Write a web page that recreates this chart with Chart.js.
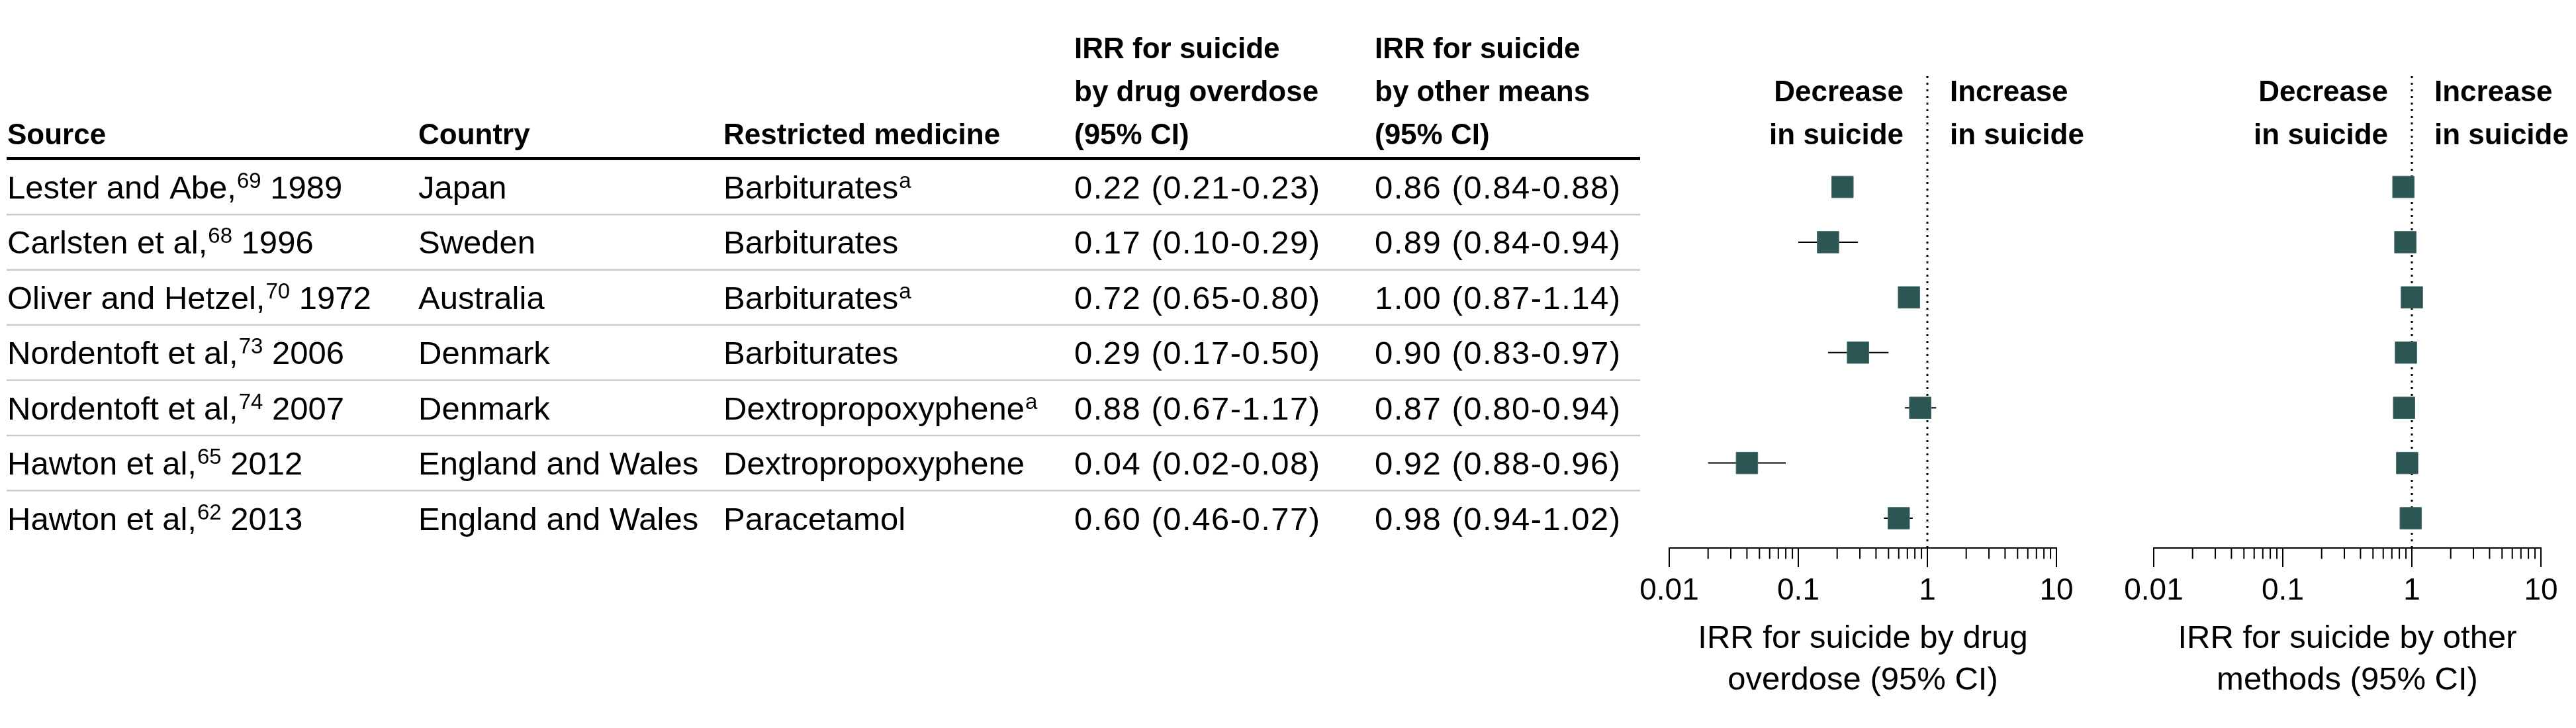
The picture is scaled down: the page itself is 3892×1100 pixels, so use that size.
<!DOCTYPE html>
<html lang="en">
<head>
<meta charset="UTF-8">
<title>Medicine restriction and suicide: IRR forest plot</title>
<style>
  html, body { margin: 0; padding: 0; background: #fff; }
  #wrap { position: relative; width: 3892px; height: 1100px; }
  #wrap canvas { position: absolute; left: 0; top: 0; }
</style>
</head>
<body>
<div id="wrap">
  <canvas id="drugChart" width="3892" height="1100"></canvas>
  <canvas id="otherChart" width="3892" height="1100"></canvas>
</div>
<script src="https://cdn.jsdelivr.net/npm/chart.js@4"></script>
<script>
// --- data ---
const sources = ['Lester and Abe,', 'Carlsten et al,', 'Oliver and Hetzel,', 'Nordentoft et al,',
                 'Nordentoft et al,', 'Hawton et al,', 'Hawton et al,'];
const refNums = ['69', '68', '70', '73', '74', '65', '62'];
const years = ['1989', '1996', '1972', '2006', '2007', '2012', '2013'];
const countries = ['Japan', 'Sweden', 'Australia', 'Denmark', 'Denmark', 'England and Wales', 'England and Wales'];
const medicines = ['Barbiturates', 'Barbiturates', 'Barbiturates', 'Barbiturates',
                   'Dextropropoxyphene', 'Dextropropoxyphene', 'Paracetamol'];
const medNotes = ['a', '', 'a', '', 'a', '', ''];

const drugIRR = [0.22, 0.17, 0.72, 0.29, 0.88, 0.04, 0.60];
const drugLow = [0.21, 0.10, 0.65, 0.17, 0.67, 0.02, 0.46];
const drugHigh = [0.23, 0.29, 0.80, 0.50, 1.17, 0.08, 0.77];

const otherIRR = [0.86, 0.89, 1.00, 0.90, 0.87, 0.92, 0.98];
const otherLow = [0.84, 0.84, 0.87, 0.83, 0.80, 0.88, 0.94];
const otherHigh = [0.88, 0.94, 1.14, 0.97, 0.94, 0.96, 1.02];

const tickValues = [0.01, 0.1, 1, 10];
const tickLabels = ['0.01', '0.1', '1', '10'];
const minorSteps = [2, 3, 4, 5, 6, 7, 8, 9];

const headers = [['Source'], ['Country'], ['Restricted medicine'],
                 ['IRR for suicide', 'by drug overdose', '(95% CI)'],
                 ['IRR for suicide', 'by other means', '(95% CI)']];
const drugTitle = ['IRR for suicide by drug', 'overdose (95% CI)'];
const otherTitle = ['IRR for suicide by other', 'methods (95% CI)'];

// --- look ---
const FONT = '"Liberation Sans", Arial, Helvetica, sans-serif';
const INK = '#000';
const MARKER = '#2b5654';
const RULE_LIGHT = '#c9ccc2';
const ROW_MIN = -2.008, ROW_MAX = 6.539;   // y range so rows land on the table lines
const colX = [11, 632, 1093, 1623, 2077];
const tableRight = 2478;

Chart.defaults.font.family = FONT;
Chart.defaults.color = INK;

function ci(est, lo, hi, i) {
  return est[i].toFixed(2) + ' (' + lo[i].toFixed(2) + '-' + hi[i].toFixed(2) + ')';
}

// text with a raised note, e.g. "Lester and Abe,69 1989"
function textSup(ctx, x, y, main, sup, tail) {
  ctx.font = '49px ' + FONT;
  ctx.fillText(main, x, y);
  x += ctx.measureText(main).width;
  if (sup) {
    ctx.font = '33px ' + FONT;
    ctx.fillText(sup, x + 1, y - 16);
    x += ctx.measureText(sup).width + 1;
  }
  if (tail) {
    ctx.font = '49px ' + FONT;
    ctx.fillText(tail, x, y);
  }
}

const tablePlugin = {
  id: 'table',
  afterDraw(chart) {
    const ctx = chart.ctx;
    const y = chart.scales.y;
    ctx.save();
    ctx.fillStyle = INK;
    ctx.textBaseline = 'alphabetic';
    ctx.textAlign = 'left';

    // column headers, bottom aligned
    ctx.font = 'bold 44px ' + FONT;
    headers.forEach((lines, c) => {
      lines.forEach((t, k) => {
        ctx.fillText(t, colX[c], 218 - 65 * (lines.length - 1 - k));
      });
    });

    ctx.strokeStyle = INK;
    ctx.lineWidth = 5;
    ctx.beginPath();
    ctx.moveTo(colX[0] - 1, 239.5);
    ctx.lineTo(tableRight, 239.5);
    ctx.stroke();

    ctx.strokeStyle = RULE_LIGHT;
    ctx.lineWidth = 2.5;
    for (let i = 0; i < sources.length - 1; i++) {
      const ly = y.getPixelForValue(i + 0.5);
      ctx.beginPath();
      ctx.moveTo(colX[0] - 1, ly);
      ctx.lineTo(tableRight, ly);
      ctx.stroke();
    }

    sources.forEach((s, i) => {
      const by = y.getPixelForValue(i) + 17.5;
      textSup(ctx, colX[0], by, s, refNums[i], ' ' + years[i]);
      textSup(ctx, colX[1], by, countries[i]);
      textSup(ctx, colX[2], by, medicines[i], medNotes[i]);
      ctx.font = '49px ' + FONT;
      ctx.letterSpacing = '1.5px';
      ctx.fillText(ci(drugIRR, drugLow, drugHigh, i), colX[3], by);
      ctx.fillText(ci(otherIRR, otherLow, otherHigh, i), colX[4], by);
      ctx.letterSpacing = '0px';
    });
    ctx.restore();
  }
};

const panelPlugin = {
  id: 'panelDecor',
  afterDraw(chart) {
    const ctx = chart.ctx;
    const x = chart.scales.x;
    const axisY = chart.chartArea.bottom;
    ctx.save();
    // minor ticks
    ctx.strokeStyle = INK;
    ctx.lineWidth = 2;
    tickValues.slice(0, -1).forEach(base => {
      minorSteps.forEach(m => {
        const px = x.getPixelForValue(base * m);
        ctx.beginPath();
        ctx.moveTo(px, axisY);
        ctx.lineTo(px, axisY + 16.5);
        ctx.stroke();
      });
    });
    // direction labels around the no-effect line
    const mid = x.getPixelForValue(1);
    ctx.fillStyle = INK;
    ctx.font = 'bold 44px ' + FONT;
    ctx.textBaseline = 'alphabetic';
    ctx.textAlign = 'right';
    ctx.fillText('Decrease', mid - 36, 153);
    ctx.fillText('in suicide', mid - 36, 218);
    ctx.textAlign = 'left';
    ctx.fillText('Increase', mid + 34, 153);
    ctx.fillText('in suicide', mid + 34, 218);
    ctx.restore();
  }
};

function makePanel(id, est, lo, hi, left, right, title, extraPlugins) {
  const rowPoints = est.map((v, i) => ({ x: v, y: i }));
  const datasets = [
    {
      data: rowPoints,
      pointStyle: 'rect',
      pointRadius: 23,
      backgroundColor: MARKER,
      borderColor: '#3f6b69',
      borderWidth: 1
    },
    ...est.map((v, i) => ({
      data: [{ x: lo[i], y: i }, { x: hi[i], y: i }],
      showLine: true,
      borderColor: INK,
      borderWidth: 2,
      pointRadius: 0
    })),
    {
      data: [{ x: 1, y: ROW_MIN }, { x: 1, y: ROW_MAX }],
      showLine: true,
      borderColor: INK,
      borderWidth: 3,
      borderDash: [3, 7],
      pointRadius: 0
    }
  ];

  return new Chart(document.getElementById(id), {
    type: 'scatter',
    data: { datasets },
    options: {
      responsive: false,
      animation: false,
      devicePixelRatio: 1,
      events: [],
      layout: { padding: { left: left, right: 3892 - right, top: 115, bottom: 0 } },
      plugins: { legend: { display: false }, tooltip: { enabled: false } },
      scales: {
        x: {
          type: 'logarithmic',
          min: 0.01,
          max: 10,
          afterBuildTicks: s => { s.ticks = tickValues.map(v => ({ value: v, major: true })); },
          afterFit: s => { s.height = 272; s.paddingLeft = 0; s.paddingRight = 0; },
          grid: {
            display: true, drawOnChartArea: false, drawTicks: true,
            tickLength: 29, tickWidth: 2, tickColor: INK, color: INK, lineWidth: 2
          },
          border: { display: true, color: INK, width: 2 },
          ticks: {
            autoSkip: false, maxRotation: 0, padding: 9, color: INK,
            font: { size: 46, lineHeight: 1.2 },
            callback: (v, i) => tickLabels[i]
          },
          title: {
            display: true, text: title, color: INK,
            font: { size: 49, lineHeight: 1.29 },
            padding: { top: 0, bottom: 40 }
          }
        },
        y: { type: 'linear', display: false, reverse: true, min: ROW_MIN, max: ROW_MAX }
      }
    },
    plugins: [panelPlugin].concat(extraPlugins)
  });
}

makePanel('drugChart', drugIRR, drugLow, drugHigh, 2522, 3107, drugTitle, [tablePlugin]);
makePanel('otherChart', otherIRR, otherLow, otherHigh, 3254, 3839, otherTitle, []);
</script>
</body>
</html>
